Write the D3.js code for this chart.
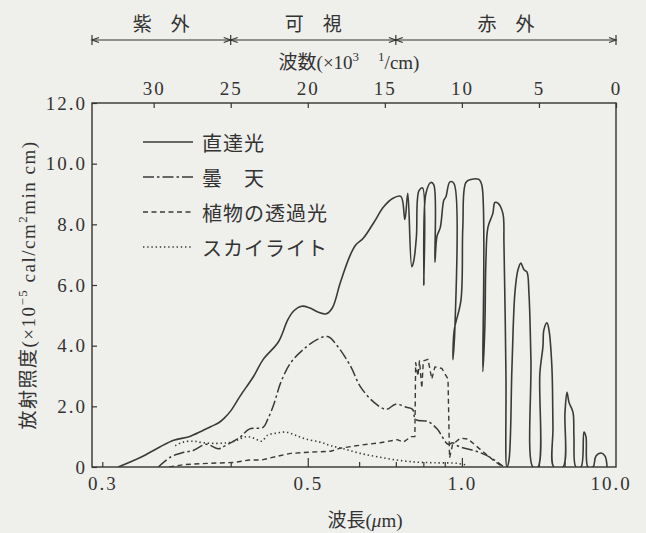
<!DOCTYPE html>
<html>
<head>
<meta charset="utf-8">
<script src="https://cdn.jsdelivr.net/npm/d3@7"></script>
<style>
  body { margin: 0; background: #efefec; }
  svg { display: block; }
  text { fill: #333; }
</style>
</head>
<body>
<div id="chart"></div>
<script>
// x: wavenumber (x10^3 1/cm), y: irradiance (x10^-5 cal/cm2 min cm)
const direct = [
  [32.3,0],[30.8,0.33],[29.6,0.66],[28.7,0.88],[27.7,1.0],[26.9,1.18],[26.3,1.33],
  [25.8,1.45],[25.4,1.62],[25.0,1.85],[24.4,2.33],[23.5,3.0],[22.9,3.54],[21.9,4.13],
  [21.3,4.85],[20.9,5.15],[20.4,5.3],[19.9,5.25],[19.3,5.1],[18.8,5.05],[18.4,5.25],
  [17.9,6.06],[17.3,6.92],[16.9,7.31],[16.4,7.54],[15.7,8.07],[15.1,8.56],[14.5,8.85],
  [13.96,8.92],[13.7,8.16],[13.51,9.02],[13.25,6.6],[13.12,6.8],[12.95,7.6],[12.79,9.1],
  [12.55,9.2],[12.47,6.0],[12.34,9.0],[12.01,9.38],[11.82,9.3],[11.75,6.75],[11.62,7.6],
  [11.4,7.9],[11.17,8.8],[11.04,8.9],[10.78,9.4],[10.52,9.35],[10.45,4.62],[10.58,3.54],
  [10.5,4.5],[10.06,5.5],[9.94,7.9],[9.74,9.38],[9.4,9.48],[8.9,9.48],[8.7,9.28],
  [8.64,3.15],[8.51,4.62],[8.44,6.8],[8.31,7.9],[7.99,8.36],[7.86,8.72],[7.66,8.7],
  [7.34,8.36],[7.27,7.38],[7.14,2.98],[7.08,0],[6.95,0.2],[6.75,3.3],[6.56,5.74],
  [6.36,6.5],[6.17,6.72],[5.97,6.5],[5.78,6.43],[5.65,5.74],[5.52,3.54],[5.39,0],
  [5.06,0],[4.94,3.1],[4.74,3.97],[4.68,4.52],[4.48,4.75],[4.35,4.52],[4.16,3.3],
  [4.09,1.34],[4.03,0],[3.44,0],[3.31,1.8],[3.18,2.46],[3.05,2.13],[2.79,1.8],[2.73,1.0],
  [2.6,0],[2.27,0],[2.08,1.15],[1.95,1.0],[1.82,0],[1.49,0],[1.3,0.36],[0.97,0.46],
  [0.71,0.36],[0.58,0]
];
const cloudy = [
  [29.7,0],[28.9,0.33],[28.2,0.46],[27.4,0.55],[26.6,0.75],[25.8,0.6],[25.4,0.69],
  [24.4,0.98],[23.8,1.25],[22.9,1.31],[22.6,1.57],[22.2,2.07],[21.75,2.79],[21.1,3.44],
  [20.3,3.87],[19.4,4.2],[18.7,4.3],[18.05,3.97],[17.2,3.3],[16.6,2.66],[15.7,2.13],
  [14.9,1.9],[14.3,2.07],[13.6,1.97],[13.2,1.9],[13.0,1.57],[12.2,1.5],[11.6,1.25],
  [10.9,0.75],[10.6,0.8],[10.2,0.68],[8.9,0.49],[8.1,0.3],[7.34,0.03]
];
const leafTrans = [
  [29.0,0],[28.0,0.08],[26.5,0.12],[24.8,0.15],[23.8,0.23],[23.0,0.23],[21.75,0.38],
  [21.1,0.45],[19.8,0.49],[18.5,0.52],[17.9,0.62],[16.6,0.72],[15.3,0.8],[14.2,0.9],
  [13.8,0.82],[13.3,1.0],[13.05,1.0],[13.0,3.44],[12.85,3.0],[12.75,3.5],[12.6,2.6],
  [12.5,3.5],[12.2,3.55],[11.95,2.9],[11.75,3.3],[11.3,3.25],[10.9,2.9],[10.8,0.3],
  [10.6,0.75],[10.1,0.95],[9.6,0.92],[9.2,0.75],[8.6,0.49],[7.9,0.2],[7.34,0]
];
const skylight = [
  [28.6,0.7],[28.1,0.82],[27.4,0.85],[26.8,0.8],[26.0,0.78],[25.2,0.8],[24.6,0.88],
  [24.0,1.0],[23.5,0.95],[23.0,0.85],[22.6,1.05],[22.0,1.12],[21.4,1.15],[20.8,1.05],
  [20.1,0.92],[19.2,0.82],[18.5,0.7],[17.6,0.59],[16.6,0.45],[15.4,0.33],[14.1,0.22],
  [12.9,0.16],[11.8,0.14],[10.3,0.12],[9.6,0.05]
];

const yTicks = [0, 2, 4, 6, 8, 10, 12];
const topTicks = [30, 25, 20, 15, 10, 5, 0];
const waveLabels = [0.3, 0.5, 1.0, 10.0];
const waveMajor = [0.5, 1.0];
const waveMinor = [0.3, 0.4, 0.6, 0.7, 0.8, 0.9, 2.0, 3.0];
const bandEdges = [34, 25, 10 / 0.7, 0];
const bandNames = ["紫　外", "可　視", "赤　外"];
const legendNames = ["直達光", "曇　天", "植物の透過光", "スカイライト"];

const W = 646, H = 533;
const serif = "'Liberation Serif', 'Noto Sans CJK JP', serif";
const cjk = "'Noto Sans CJK JP', sans-serif";

let svg = d3.select("#chart").append("svg")
    .attr("width", W)
    .attr("height", H);

let x = d3.scaleLinear().domain([34, 0]).range([92, 616]);
let y = d3.scaleLinear().domain([0, 12]).range([467, 103]);

svg.append("clipPath").attr("id", "plot-clip")
    .append("rect")
    .attr("x", x(34)).attr("y", y(12))
    .attr("width", x(0) - x(34)).attr("height", y(0) - y(12));

// frame
svg.append("rect")
    .attr("x", x(34)).attr("y", y(12))
    .attr("width", x(0) - x(34)).attr("height", y(0) - y(12))
    .attr("fill", "none")
    .attr("stroke", "#333")
    .attr("stroke-width", 1.4);

function styleAxis(g, size) {
    g.select(".domain").remove();
    g.selectAll(".tick line").attr("stroke", "#333").attr("stroke-width", 1.2);
    g.selectAll(".tick text")
        .attr("fill", "#333")
        .style("font-family", serif)
        .style("font-size", size + "px")
        .style("letter-spacing", "2px");
}

// left axis
let yAxis = svg.append("g")
    .attr("transform", "translate(" + x(34) + ",0)")
    .call(d3.axisLeft(y).tickValues(yTicks).tickSize(-5).tickPadding(5)
        .tickFormat(d => d === 0 ? "0" : d.toFixed(1)));
styleAxis(yAxis, 19);

// top axis: wavenumber
let topAxis = svg.append("g")
    .attr("transform", "translate(0," + y(12) + ")")
    .call(d3.axisTop(x).tickValues(topTicks).tickSize(-5).tickPadding(8));
styleAxis(topAxis, 19);

// bottom axis: wavelength
let bottomLab = svg.append("g")
    .attr("transform", "translate(0," + y(0) + ")")
    .call(d3.axisBottom(x).tickValues(waveLabels.map(w => 10 / w)).tickSize(0).tickPadding(10)
        .tickFormat(d => (10 / d).toFixed(1)));
styleAxis(bottomLab, 19);
bottomLab.selectAll(".tick text").filter(d => Math.abs(d - 1) < 1e-6).attr("dx", 10);

let bottomMajor = svg.append("g")
    .attr("transform", "translate(0," + y(0) + ")")
    .call(d3.axisBottom(x).tickValues(waveMajor.map(w => 10 / w)).tickSize(-9).tickFormat(""));
styleAxis(bottomMajor, 10);

let bottomMinor = svg.append("g")
    .attr("transform", "translate(0," + y(0) + ")")
    .call(d3.axisBottom(x).tickValues(waveMinor.map(w => 10 / w)).tickSize(-5).tickFormat(""));
styleAxis(bottomMinor, 10);

// series
let line = d3.line()
    .x(d => x(d[0]))
    .y(d => y(d[1]));

let plot = svg.append("g").attr("clip-path", "url(#plot-clip)");

let series = [
    {data: direct, dash: null, curve: d3.curveCatmullRom.alpha(0.5), w: 1.6},
    {data: cloudy, dash: "11,3,2.5,3", curve: d3.curveCatmullRom.alpha(0.5), w: 1.5},
    {data: leafTrans, dash: "5,3.5", curve: d3.curveLinear, w: 1.4},
    {data: skylight, dash: "1.4,2.8", curve: d3.curveCatmullRom.alpha(0.5), w: 1.6}
];

series.forEach(s => {
    plot.append("path")
        .datum(s.data)
        .attr("d", line.curve(s.curve))
        .attr("fill", "none")
        .attr("stroke", "#3a3a3a")
        .attr("stroke-width", s.w)
        .attr("stroke-linejoin", "round")
        .attr("stroke-dasharray", s.dash);
});

// legend
let legend = svg.append("g");
let rowY = [142, 177, 212, 247];
legendNames.forEach((name, i) => {
    legend.append("line")
        .attr("x1", 143).attr("x2", 193)
        .attr("y1", rowY[i]).attr("y2", rowY[i])
        .attr("stroke", "#3a3a3a")
        .attr("stroke-width", series[i].w)
        .attr("stroke-dasharray", series[i].dash);
    legend.append("text")
        .attr("x", 202).attr("y", rowY[i])
        .attr("dominant-baseline", "central")
        .style("font-family", cjk)
        .style("font-size", "20px")
        .style("letter-spacing", "1px")
        .text(name);
});

// spectral bands above the top axis
let bandY = 40;
svg.append("line")
    .attr("x1", x(bandEdges[0])).attr("x2", x(bandEdges[bandEdges.length - 1]))
    .attr("y1", bandY).attr("y2", bandY)
    .attr("stroke", "#333").attr("stroke-width", 1.2);

bandEdges.forEach((e, i) => {
    let px = x(e);
    svg.append("line")
        .attr("x1", px).attr("x2", px)
        .attr("y1", bandY - 5).attr("y2", bandY + 5)
        .attr("stroke", "#333").attr("stroke-width", 1.2);
    // arrow heads pointing at the edge from each side
    [-1, 1].forEach(side => {
        if ((side < 0 && i === 0) || (side > 0 && i === bandEdges.length - 1)) return;
        svg.append("path")
            .attr("d", "M" + (px + side * 7) + "," + (bandY - 2.5) + "L" + px + "," + bandY +
                "L" + (px + side * 7) + "," + (bandY + 2.5))
            .attr("fill", "none")
            .attr("stroke", "#333").attr("stroke-width", 1.1);
    });
});

bandNames.forEach((name, i) => {
    svg.append("text")
        .attr("x", (x(bandEdges[i]) + x(bandEdges[i + 1])) / 2)
        .attr("y", 22)
        .attr("text-anchor", "middle")
        .attr("dominant-baseline", "central")
        .style("font-family", cjk)
        .style("font-size", "19px")
        .text(name);
});

// top axis title
let kTitle = svg.append("text")
    .attr("x", 349).attr("y", 62)
    .attr("text-anchor", "middle")
    .attr("dominant-baseline", "central")
    .style("font-family", serif)
    .style("font-size", "19px");
kTitle.append("tspan").text("波数(×10");
kTitle.append("tspan").attr("baseline-shift", "40%").style("font-size", "13px").text("3");
kTitle.append("tspan").text("\u2003");
kTitle.append("tspan").attr("baseline-shift", "40%").style("font-size", "13px").text("1");
kTitle.append("tspan").text("/cm)");

// x axis title
let xTitle = svg.append("text")
    .attr("x", 365).attr("y", 520)
    .attr("text-anchor", "middle")
    .attr("dominant-baseline", "central")
    .style("font-family", serif)
    .style("font-size", "19px");
xTitle.append("tspan").text("波長(");
xTitle.append("tspan").style("font-style", "italic").text("μ");
xTitle.append("tspan").text("m)");

// y axis title
let yTitle = svg.append("text")
    .attr("transform", "translate(28,285) rotate(-90)")
    .attr("text-anchor", "middle")
    .attr("dominant-baseline", "central")
    .style("font-family", serif)
    .style("font-size", "19px")
    .style("letter-spacing", "1.5px");
yTitle.append("tspan").text("放射照度(×10");
yTitle.append("tspan").attr("baseline-shift", "40%").style("font-size", "13px").text("−5");
yTitle.append("tspan").text(" cal/cm");
yTitle.append("tspan").attr("baseline-shift", "40%").style("font-size", "13px").text("2");
yTitle.append("tspan").text("min cm)");
</script>
</body>
</html>
